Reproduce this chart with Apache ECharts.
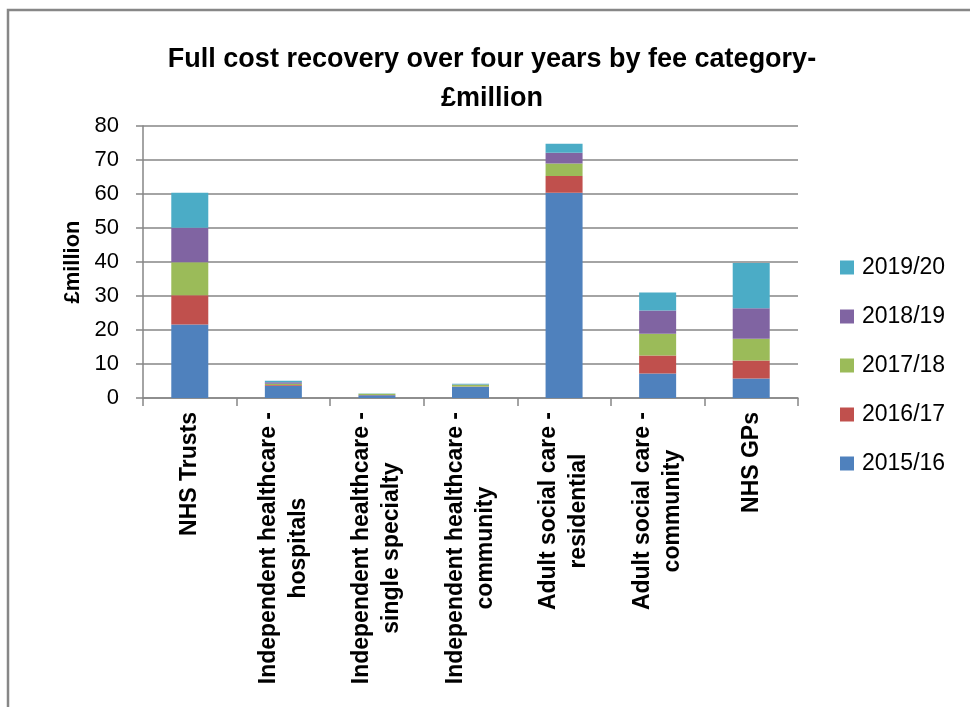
<!DOCTYPE html>
<html>
<head>
<meta charset="utf-8">
<script src="https://cdn.jsdelivr.net/npm/echarts@6/dist/echarts.min.js"></script>
<style>
html,body{margin:0;padding:0;background:#fff;}
#main{width:970px;height:707px;}
</style>
</head>
<body>
<div id="main"></div>
<script>
var titleText = 'Full cost recovery over four years by fee category-\n£million';
var yAxisName = '£million';
var categories = [
  'NHS Trusts',
  'Independent healthcare -\nhospitals',
  'Independent healthcare -\nsingle specialty',
  'Independent healthcare -\ncommunity',
  'Adult social care -\nresidential',
  'Adult social care -\ncommunity',
  'NHS GPs'
];
var seriesNames = ['2015/16', '2016/17', '2017/18', '2018/19', '2019/20'];
var v2015 = [21.6, 3.6, 0.8, 3.3, 60.4, 7.2, 5.7];
var v2016 = [8.6, 0.2, 0.05, 0.1, 4.9, 5.3, 5.3];
var v2017 = [9.7, 0.4, 0.4, 0.5, 3.7, 6.4, 6.4];
var v2018 = [10.2, 0.4, 0.02, 0.1, 3.1, 6.8, 9.0];
var v2019 = [10.3, 0.5, 0.03, 0.2, 2.7, 5.3, 13.3];
var yTicks = [0, 10, 20, 30, 40, 50, 60, 70, 80];

var colors = ['#4F81BD', '#C0504D', '#9BBB59', '#8064A2', '#4BACC6'];
var allValues = [v2015, v2016, v2017, v2018, v2019];
var FONT = 'Liberation Sans';

var chart = echarts.init(document.getElementById('main'), null, {renderer: 'canvas'});
var series = seriesNames.map(function (name, i) {
  return {
    name: name,
    type: 'bar',
    stack: 'total',
    barWidth: 37,
    data: allValues[i],
    itemStyle: {color: colors[i]},
    emphasis: {disabled: true}
  };
});

chart.setOption({
  animation: false,
  backgroundColor: '#ffffff',
  graphic: [{
    type: 'rect',
    shape: {x: 8, y: 10, width: 1000, height: 1000},
    style: {fill: 'none', stroke: '#878787', lineWidth: 2.5},
    silent: true
  }],
  title: {
    text: titleText,
    left: 492,
    textAlign: 'center',
    top: 40,
    padding: 0,
    textStyle: {
      fontFamily: FONT,
      fontWeight: 'bold',
      fontSize: 27,
      lineHeight: 39,
      color: '#000'
    }
  },
  legend: {
    orient: 'vertical',
    left: 840,
    top: 256,
    padding: 0,
    itemGap: 26,
    itemWidth: 14,
    itemHeight: 14,
    icon: 'rect',
    data: seriesNames.slice().reverse(),
    textStyle: {fontFamily: FONT, fontSize: 23, lineHeight: 22, color: '#000', padding: [0, 0, 0, 3]}
  },
  grid: {left: 143, right: 172, top: 126, bottom: 309, containLabel: false},
  xAxis: {
    type: 'category',
    data: categories,
    axisLine: {show: true, lineStyle: {color: '#868686', width: 1.5}},
    axisTick: {show: true, length: 8, lineStyle: {color: '#868686', width: 1.5}},
    axisLabel: {
      rotate: 90,
      interval: 0,
      margin: 14,
      fontFamily: FONT,
      fontWeight: 'bold',
      fontSize: 23,
      lineHeight: 30,
      color: '#000',
      formatter: function (v) {
        return v.split('\n').map(function (s) { return '{c|' + s + '}'; }).join('\n');
      },
      rich: {
        c: {align: 'center', fontFamily: FONT, fontWeight: 'bold', fontSize: 23, lineHeight: 30, color: '#000'}
      }
    }
  },
  yAxis: {
    type: 'value',
    min: yTicks[0],
    max: yTicks[yTicks.length - 1],
    interval: 10,
    name: yAxisName,
    nameLocation: 'middle',
    nameGap: 59,
    nameRotate: 90,
    nameTextStyle: {fontFamily: FONT, fontWeight: 'bold', fontSize: 22, color: '#000'},
    axisLine: {show: true, lineStyle: {color: '#868686', width: 1.5}},
    axisTick: {show: true, length: 7, lineStyle: {color: '#868686', width: 1.5}},
    splitLine: {show: true, lineStyle: {color: '#868686', width: 1.5}},
    axisLabel: {fontFamily: FONT, fontSize: 22, color: '#000', margin: 24}
  },
  series: series
});
</script>
</body>
</html>
